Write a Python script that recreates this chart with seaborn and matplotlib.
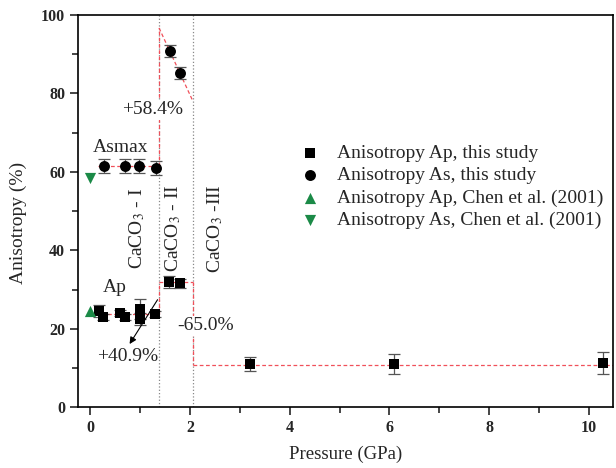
import matplotlib
matplotlib.use("Agg")
import matplotlib.pyplot as plt
import seaborn as sns
import pandas as pd
import numpy as np

# ---- data ----
ap_p = [0.18, 0.26, 0.60, 0.70, 1.00, 1.00, 1.30, 1.58, 1.80, 3.20, 6.10, 10.28]
ap_v = [24.5, 23.0, 24.0, 23.0, 25.0, 22.5, 23.7, 31.9, 31.6, 11.0, 11.0, 11.2]
ap_e = [1.6, 0.8, 0.8, 0.8, 2.5, 1.5, 0.8, 1.5, 1.2, 1.9, 2.5, 2.8]

as_p = [0.28, 0.70, 0.98, 1.32, 1.60, 1.80]
as_v = [61.5, 61.5, 61.5, 61.0, 90.8, 85.2]
as_e = [1.7, 1.7, 1.7, 1.7, 1.6, 1.6]

chen_ap_p = [0.0]
chen_ap_v = [24.5]
chen_as_p = [0.0]
chen_as_v = [58.4]

# phase transition pressures and guide levels
trans_p = [1.38, 2.06]
ap_level = [23.7, 31.8, 10.8]
as_level = [61.5]
as_fit_ends = [96.7, 78.0]

labels = ["Anisotropy Ap, this study", "Anisotropy As, this study",
          "Anisotropy Ap, Chen et al. (2001)", "Anisotropy As, Chen et al. (2001)"]

sns.set_style("ticks")
plt.rcParams['font.family'] = ['Liberation Serif', 'DejaVu Serif']
plt.rcParams['mathtext.fontset'] = 'stix'

fig = plt.figure(figsize=(6.16, 4.68), dpi=100)
ax = fig.add_axes([0.127, 0.130, 0.868, 0.838])

green = '#1b8a47'
red = '#f0505a'

# transition lines
for p in trans_p:
    ax.axvline(p, color='#888888', ls=':', lw=0.9, zorder=1)

# red guide lines
rkw = dict(color=red, ls=(0, (3, 2)), lw=0.9, zorder=1.5)
ax.plot([0.1, trans_p[0]], [ap_level[0], ap_level[0]], **rkw)
ax.plot([trans_p[0], trans_p[0]], [ap_level[0], ap_level[1]], **rkw)
ax.plot([trans_p[0], trans_p[1]], [ap_level[1], ap_level[1]], **rkw)
ax.plot([trans_p[1], trans_p[1]], [ap_level[1], ap_level[2]], **rkw)
ax.plot([trans_p[1], 10.48], [ap_level[2], ap_level[2]], **rkw)
ax.plot([0.16, trans_p[0]], [as_level[0], as_level[0]], **rkw)
ax.plot([trans_p[0], trans_p[0]], [as_level[0], as_fit_ends[0]], **rkw)
ax.plot([trans_p[0], trans_p[1]], as_fit_ends, **rkw)

# error bars
ax.errorbar(ap_p, ap_v, yerr=ap_e, fmt='none', ecolor='#555555', elinewidth=0.9,
            capsize=4, capthick=0.9, zorder=2)
ax.errorbar(as_p, as_v, yerr=as_e, fmt='none', ecolor='#555555', elinewidth=0.9,
            capsize=4, capthick=0.9, zorder=2)

df_ap = pd.DataFrame({'p': ap_p, 'v': ap_v})
df_as = pd.DataFrame({'p': as_p, 'v': as_v})
sns.scatterplot(data=df_ap, x='p', y='v', marker='s', s=50, color='black',
                edgecolor='black', linewidth=0, ax=ax, zorder=3, label=labels[0])
sns.scatterplot(data=df_as, x='p', y='v', marker='o', s=62, color='black',
                edgecolor='black', linewidth=0, ax=ax, zorder=3, label=labels[1])
sns.scatterplot(x=chen_ap_p, y=chen_ap_v, marker='^', s=65, color=green,
                linewidth=0, ax=ax, zorder=3, label=labels[2])
sns.scatterplot(x=chen_as_p, y=chen_as_v, marker='v', s=65, color=green,
                linewidth=0, ax=ax, zorder=3, label=labels[3])

# annotations
fs = 14
wb = dict(facecolor='white', edgecolor='none', pad=1)
ax.text(1.24, 75.8, "+58.4%", fontsize=fs, ha='center', va='center', bbox=wb, zorder=2.5)
ax.text(2.32, 20.7, "-65.0%", fontsize=fs, ha='center', va='center', bbox=wb, zorder=2.5)
ax.text(0.6, 66.2, "Asmax", fontsize=fs, ha='center', va='center')
ax.text(0.5, 30.6, "Ap", fontsize=fs, ha='center', va='center')
ax.annotate("", xy=(0.76, 15.5), xytext=(1.38, 28.0),
            arrowprops=dict(arrowstyle='-|>', color='black', lw=0.8, mutation_scale=10))
ax.text(0.74, 13.0, "+40.9%", fontsize=fs, ha='center', va='center')
ax.text(0.94, 45.5, r"CaCO$_3$ - I", rotation=90, fontsize=14, ha='center', va='center')
ax.text(1.66, 45.5, r"CaCO$_3$ - II", rotation=90, fontsize=14, ha='center', va='center')
ax.text(2.50, 45.5, r"CaCO$_3$ -III", rotation=90, fontsize=14, ha='center', va='center')

ax.set_xlim(-0.24, 10.48)
ax.set_ylim(0, 100)
ax.set_xticks([0, 2, 4, 6, 8, 10])
ax.set_xticks([1, 3, 5, 7, 9], minor=True)
ax.set_yticks([0, 20, 40, 60, 80, 100])
ax.set_yticks([10, 30, 50, 70, 90], minor=True)
ax.tick_params(which='major', length=6, width=1.2, labelsize=11.5, direction='out')
ax.tick_params(which='minor', length=4, width=1.2, direction='out')
for lab in ax.get_xticklabels() + ax.get_yticklabels():
    lab.set_fontweight('bold')
for sp in ax.spines.values():
    sp.set_visible(True)
    sp.set_linewidth(1.2)
    sp.set_color('black')

ax.set_xlabel("Pressure (GPa)", fontsize=13.5, labelpad=7)
ax.set_ylabel("Anisotropy (%)", fontsize=14)
ax.yaxis.set_label_coords(-0.095, 0.47)

leg = ax.legend(loc='upper left', bbox_to_anchor=(0.397, 0.69), frameon=False,
                fontsize=14, handletextpad=0.8, labelspacing=0.25,
                borderaxespad=0, handlelength=1.2)

fig.savefig("out.png", dpi=100)
